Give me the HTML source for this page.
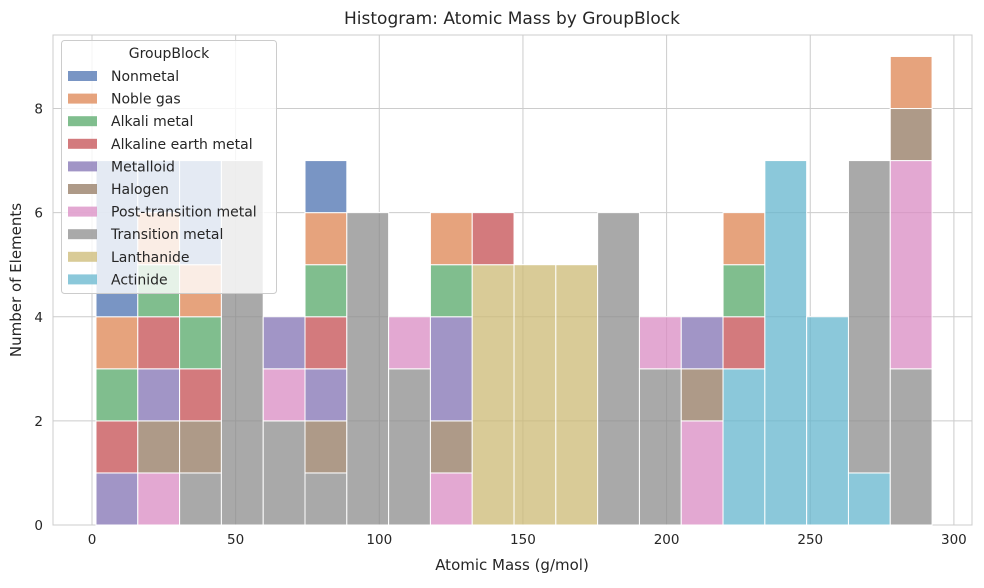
<!DOCTYPE html>
<html><head><meta charset="utf-8"><style>
body{margin:0;background:#fff;font-family:"Liberation Sans","DejaVu Sans",sans-serif;}
svg text{font-family:"DejaVu Sans","Liberation Sans",sans-serif;fill:#262626;}
</style></head><body>
<svg id="c" width="984" height="583" xmlns="http://www.w3.org/2000/svg"></svg>
<script>
const categories=["Nonmetal","Noble gas","Alkali metal","Alkaline earth metal","Metalloid","Halogen","Post-transition metal","Transition metal","Lanthanide","Actinide"];
const colors=["#4c72b0","#dd8452","#55a868","#c44e52","#8172b3","#937860","#da8bc3","#8c8c8c","#ccb974","#64b5cd"];
const binStart=1.39, binEnd=292.4, nBins=20;
const nonmetal=[3,1,2,0,0,1,0,0,0,0,0,0,0,0,0,0,0,0,0,0];
const nobleGas=[1,1,1,0,0,1,0,0,1,0,0,0,0,0,0,1,0,0,0,1];
const alkali=[1,1,1,0,0,1,0,0,1,0,0,0,0,0,0,1,0,0,0,0];
const alkEarth=[1,1,1,0,0,1,0,0,0,1,0,0,0,0,0,1,0,0,0,0];
const metalloid=[1,1,0,0,1,1,0,0,2,0,0,0,0,0,1,0,0,0,0,0];
const halogen=[0,1,1,0,0,1,0,0,1,0,0,0,0,0,1,0,0,0,0,1];
const postTrans=[0,1,0,0,1,0,0,1,1,0,0,0,0,1,2,0,0,0,0,4];
const transition=[0,0,1,7,2,1,6,3,0,0,0,0,6,3,0,0,0,0,6,3];
const lanthanide=[0,0,0,0,0,0,0,0,0,5,5,5,0,0,0,0,0,0,0,0];
const actinide=[0,0,0,0,0,0,0,0,0,0,0,0,0,0,0,3,7,4,1,0];
const series=[nonmetal,nobleGas,alkali,alkEarth,metalloid,halogen,postTrans,transition,lanthanide,actinide];
const xTicks=[0,50,100,150,200,250,300];
const yTicks=[0,2,4,6,8];
const L=53,R=972,T=35,B=525;
const X=v=>92+v*2.873, Y=v=>525-v*52.06;
const svg=document.getElementById('c');const NS='http://www.w3.org/2000/svg';
function el(t,a,p){const e=document.createElementNS(NS,t);for(const k in a)e.setAttribute(k,a[k]);(p||svg).appendChild(e);return e;}
let e=el('rect',{x:L,y:T,width:R-L,height:B-T,fill:'#fff',stroke:'#cccccc','stroke-width':1});


xTicks.forEach(t=>{let g=el('line',{x1:X(t),x2:X(t),y1:T,y2:B,stroke:'#cccccc'});


let tx=el('text',{x:X(t),y:B+19,'text-anchor':'middle','font-size':13.5});tx.textContent=t;

});
yTicks.forEach(t=>{let g=el('line',{x1:L,x2:R,y1:Y(t),y2:Y(t),stroke:'#cccccc'});


let tx=el('text',{x:L-10,y:Y(t)+5,'text-anchor':'end','font-size':13.5});tx.textContent=t;

});
const w=(binEnd-binStart)/nBins;
for(let b=0;b<nBins;b++){let base=0;
for(let s=series.length-1;s>=0;s--){const v=series[s][b];if(!v)continue;
const x0=X(binStart+b*w),x1=X(binStart+(b+1)*w);
let r=el('rect',{x:x0,y:Y(base+v),width:x1-x0,height:Y(base)-Y(base+v),fill:colors[s],'fill-opacity':0.75,stroke:'#fff','stroke-width':1});


base+=v;}}
let t1=el('text',{x:512,y:24,'text-anchor':'middle','font-size':17});t1.textContent='Histogram: Atomic Mass by GroupBlock';


let t2=el('text',{x:512,y:570,'text-anchor':'middle','font-size':15});t2.textContent='Atomic Mass (g/mol)';


let t3=el('text',{x:21,y:280,'text-anchor':'middle','font-size':15,transform:'rotate(-90 21 280)'});t3.textContent='Number of Elements';


const lg=el('g',{});


el('rect',{x:61.5,y:40.5,width:215,height:253,rx:3,fill:'#fff','fill-opacity':0.8,stroke:'#cccccc'},lg);
let lt=el('text',{x:169,y:58,'text-anchor':'middle','font-size':14},lg);lt.textContent='GroupBlock';


categories.forEach((c,i)=>{const y=76+i*22.6;
let g=el('g',{},lg);


el('rect',{x:68,y:y-5,width:29,height:10,fill:colors[i],'fill-opacity':0.75},g);
let t=el('text',{x:111,y:y+5,'font-size':14},g);t.textContent=c;});
</script>
</body></html>
